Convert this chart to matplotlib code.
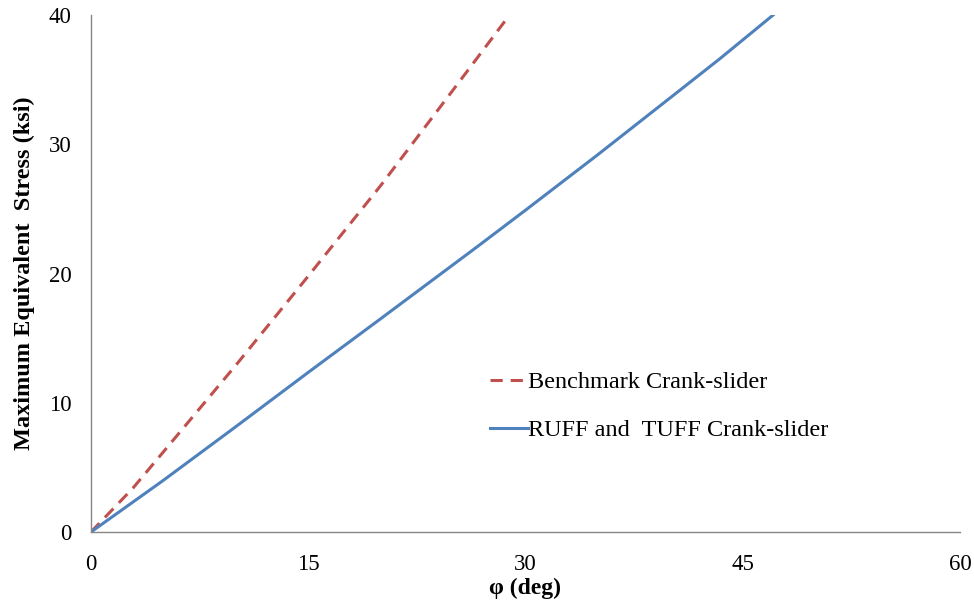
import matplotlib.pyplot as plt

phi_bench = [0, 2.9, 5, 10, 15, 20, 25, 28.9]
stress_bench = [0, 3.4, 6.2, 12.9, 19.8, 26.8, 34.2, 40.0]

phi_tuff = [0, 5, 10, 15, 20, 26.7, 30, 35, 40, 43.4, 47.1]
stress_tuff = [0, 4.0, 8.15, 12.35, 16.5, 22.1, 24.9, 29.2, 33.6, 36.6, 40.0]

x_ticks = [0, 15, 30, 45, 60]
y_ticks = [0, 10, 20, 30, 40]

plt.rcParams['font.family'] = ['Liberation Serif', 'DejaVu Serif']

fig = plt.figure(figsize=(9.74, 6.06), dpi=100)
ax = fig.add_axes([0.0934, 0.1221, 0.8922, 0.8531])

ax.plot(phi_bench, stress_bench, color='#c0504d', linestyle=(0, (4, 2.6)),
        linewidth=2.2, label='Benchmark Crank-slider')
ax.plot(phi_tuff, stress_tuff, color='#4f81bd', linewidth=2.2,
        label='RUFF and  TUFF Crank-slider')

ax.set_xlim(0, 60)
ax.set_ylim(0, 40)
ax.set_xticks(x_ticks)
ax.set_yticks(y_ticks)
ax.tick_params(length=0, labelsize=16.5, pad=14)
ax.tick_params(axis='x', pad=16)

for side in ('top', 'right'):
    ax.spines[side].set_visible(False)
for side in ('left', 'bottom'):
    ax.spines[side].set_color('#868686')
    ax.spines[side].set_linewidth(1.0)

ax.set_xlabel('φ (deg)', fontsize=17, fontweight='bold', labelpad=2)
ax.set_ylabel('Maximum Equivalent  Stress (ksi)', fontsize=17.5,
              fontweight='bold', labelpad=10)

ax.legend(loc='upper left', bbox_to_anchor=(0.434, 0.353), frameon=False,
          fontsize=17.5, handlelength=1.55, handletextpad=0.0,
          labelspacing=1.07)

plt.savefig('out.png', dpi=100)
